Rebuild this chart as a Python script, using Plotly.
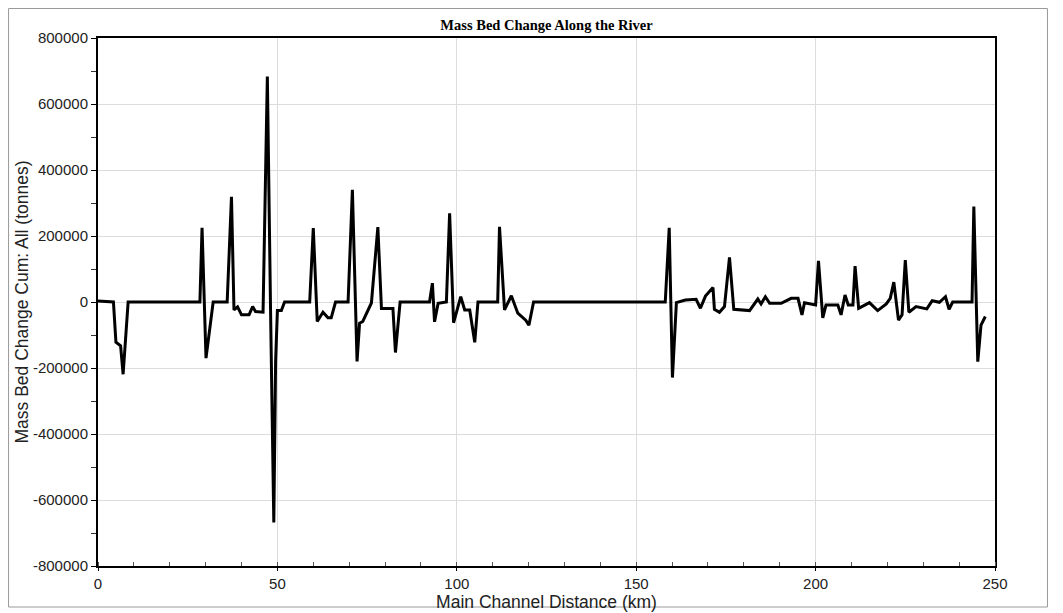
import plotly.graph_objects as go

# Main channel distance (km)
distance_km = [0, 1.5, 4.3, 5.0, 6.3, 7.0, 8.4, 28.4, 29.0, 30.1, 32.1, 36.0, 37.2, 37.9, 38.9, 40.0,
               42.1, 43.1, 43.9, 46.0, 47.2, 48.1, 49.0, 49.5, 50.0, 51.1, 52.0, 59.0, 60.0, 61.1,
               62.7, 64.1, 65.0, 66.2, 69.7, 70.9, 72.2, 72.9, 73.8, 76.2, 78.0, 79.0, 82.2, 82.9,
               84.2, 92.4, 93.2, 93.8, 94.8, 97.1, 98.0, 99.1, 101.1, 102.2, 103.6, 105.0, 105.9,
               111.4, 111.9, 113.3, 115.2, 117.0, 119.2, 120.1, 121.4, 158.1, 159.2, 160.1, 161.2,
               163.7, 166.7, 167.9, 169.3, 171.4, 171.8, 173.2, 174.6, 176.0, 177.2, 181.6, 183.9,
               184.8, 186.0, 187.2, 190.4, 193.2, 195.1, 196.2, 196.9, 200.0, 200.8, 202.0, 202.9,
               206.2, 207.1, 208.2, 209.1, 210.4, 211.0, 212.0, 215.0, 217.3, 219.7, 220.8, 221.8,
               223.1, 224.1, 225.0, 226.0, 228.0, 231.0, 232.5, 234.5, 236.2, 237.2, 238.2, 243.6,
               244.1, 245.2, 246.1, 247.3]

# Mass bed change cumulative (tonnes)
mass_change = [3000, 2000, 0, -122000, -133000, -219000, 0, 0, 225000, -170000, 0, 0, 319000, -24000,
               -15000, -39000, -39000, -14000, -29000, -31000, 683000, -30000, -668000, -180000,
               -26000, -26000, 0, 0, 224000, -59000, -31000, -48000, -48000, 0, 0, 340000, -180000,
               -64000, -59000, -3000, 227000, -20000, -20000, -153000, 0, 0, 57000, -60000, -4000, 0,
               269000, -63000, 16000, -24000, -24000, -122000, 0, 0, 228000, -24000, 19000, -34000,
               -55000, -70000, 0, 0, 225000, -229000, -2000, 6000, 8000, -19000, 18000, 44000,
               -22000, -31000, -14000, 135000, -22000, -26000, 9000, -6000, 16000, -4000, -4000,
               11000, 11000, -39000, -2000, -9000, 125000, -48000, -9000, -9000, -39000, 21000,
               -9000, -9000, 109000, -19000, -2000, -26000, -6000, 11000, 60000, -55000, -39000,
               127000, -31000, -14000, -21000, 4000, -1000, 16000, -22000, 0, 0, 289000, -181000,
               -70000, -44000]

x_tick_vals = [0, 50, 100, 150, 200, 250]
x_tick_text = ["0", "50", "100", "150", "200", "250"]
y_tick_vals = [800000, 600000, 400000, 200000, 0, -200000, -400000, -600000, -800000]
y_tick_text = ["800000", "600000", "400000", "200000", "0", "-200000", "-400000", "-600000", "-800000"]

fig = go.Figure()
fig.add_trace(go.Scatter(
    x=distance_km, y=mass_change, mode="lines",
    line=dict(color="black", width=3),
    showlegend=False,
))

tick_font = dict(family="Liberation Sans, Arial, sans-serif", size=15, color="#222222")
title_font = dict(family="Liberation Sans, Arial, sans-serif", size=17.5, color="#222222")

W, H = 1063, 613
L, T = 90, 30          # page is offset by 8px body margin
PW, PH = 897.5, 528
R = W - L - PW
B = H - T - PH

fig.update_layout(
    width=W, height=H,
    margin=dict(l=L, r=R, t=T, b=B, pad=0),
    paper_bgcolor="white", plot_bgcolor="white",
    title=dict(text="<b>Mass Bed Change Along the River</b>",
               font=dict(family="Liberation Serif, Times New Roman, serif", size=14.5, color="black"),
               x=0.5, xref="paper", xanchor="center", y=1 - 17 / H, yanchor="middle"),
    xaxis=dict(
        range=[0, 250], tickmode="array", tickvals=x_tick_vals, ticktext=x_tick_text,
        ticks="outside", ticklen=3, tickwidth=1, tickcolor="black",
        showgrid=True, gridcolor="#dcdcdc", gridwidth=1,
        showline=True, linecolor="black", linewidth=2, mirror=True,
        zeroline=False, tickfont=tick_font,
        minor=dict(tickmode="linear", tick0=0, dtick=10, ticks="inside", ticklen=4,
                   tickcolor="#555555", showgrid=False),
        title=dict(text="Main Channel Distance (km)", font=title_font, standoff=0),
        automargin=False,
    ),
    yaxis=dict(
        range=[-800000, 800000], tickmode="array", tickvals=y_tick_vals, ticktext=y_tick_text,
        ticks="outside", ticklen=5, tickwidth=1, tickcolor="black",
        showgrid=True, gridcolor="#dcdcdc", gridwidth=1,
        showline=True, linecolor="black", linewidth=2, mirror=True,
        zeroline=False, tickfont=tick_font,
        minor=dict(tickmode="linear", tick0=0, dtick=100000, ticks="outside", ticklen=5,
                   tickcolor="#333333", showgrid=False),
        title=dict(text="Mass Bed Change Cum: All (tonnes)", font=title_font, standoff=0),
        automargin=False,
    ),
    shapes=[dict(type="rect", xref="paper", yref="paper",
                 x0=(0.5 - L) / PW, x1=(1040 - L) / PW,
                 y0=(T + PH - 599) / PH, y1=(T + PH - 0.5) / PH,
                 line=dict(color="#9a9a9a", width=1), layer="below")],
)

fig.write_html("out.html")
